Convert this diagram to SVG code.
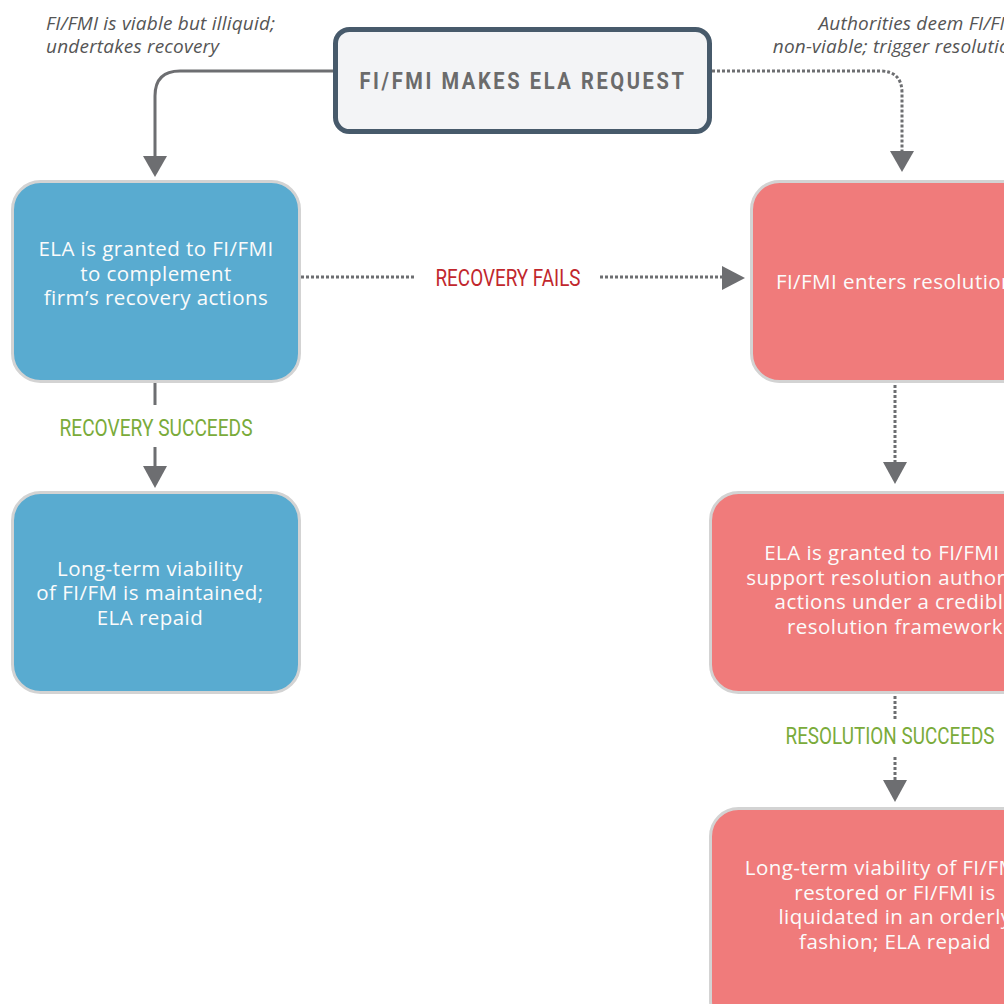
<svg xmlns="http://www.w3.org/2000/svg" width="1004" height="1004" viewBox="0 0 1004 1004">
<style>
.node{stroke:#d3d3d3;stroke-width:3}
.blue{fill:#59abd0}
.red{fill:#f07b7b}
.nt{font-family:"Open Sans","DejaVu Sans",sans-serif;font-size:20.5px;letter-spacing:0.45px;fill:#fbfbfb;text-anchor:middle}
.ann{font-family:"Open Sans","DejaVu Sans",sans-serif;font-size:19px;letter-spacing:0.2px;font-style:italic;fill:#555}
.lbl{font-family:Roboto,"Liberation Sans",sans-serif;font-size:23px;text-anchor:middle}
.solid{fill:none;stroke:#6d6e71;stroke-width:3}
.dot{fill:none;stroke:#6d6e71;stroke-width:3;stroke-dasharray:3 2}
.head{fill:#6d6e71}
</style>
<rect width="1004" height="1004" fill="#ffffff"/>
<g id="connectors">
<path class="solid" d="M335 71 H180 Q155 71 155 96 V158"/>
<polygon class="head" points="143,156 167,156 155,177"/>
<path class="dot" d="M712 71 H880 Q902 71 902 93 V152"/>
<polygon class="head" points="890,151 914,151 902,172"/>
<path class="dot" d="M301 277 H415 M600 277 H723"/>
<polygon class="head" points="722,266 722,290 745,278"/>
<path class="dot" d="M895 385 V463"/>
<polygon class="head" points="883,462 907,462 895,484"/>
<path class="solid" d="M155 383 V405 M155 447 V468"/>
<polygon class="head" points="143,466 167,466 155,488"/>
<path class="dot" d="M895 696 V720 M895 757 V781"/>
<polygon class="head" points="883,780 907,780 895,802"/>
<text class="lbl" x="508" y="286" fill="#c1272d" textLength="145" lengthAdjust="spacingAndGlyphs">RECOVERY FAILS</text>
<text class="lbl" x="156" y="436" fill="#7aab3a" textLength="193" lengthAdjust="spacingAndGlyphs">RECOVERY SUCCEEDS</text>
<text class="lbl" x="890" y="744" fill="#7aab3a" textLength="209" lengthAdjust="spacingAndGlyphs">RESOLUTION SUCCEEDS</text>
<text class="ann" x="46" y="30">FI/FMI is viable but illiquid;</text>
<text class="ann" x="46" y="53">undertakes recovery</text>
<text class="ann" x="1021" y="30" text-anchor="end">Authorities deem FI/FMI</text>
<text class="ann" x="1021" y="53" text-anchor="end">non-viable; trigger resolution</text>
</g>
<g id="request">
<rect x="335.5" y="29.5" width="374" height="102" rx="14" fill="#f3f4f6" stroke="#475a6b" stroke-width="5"/>
<text x="523" y="89" font-family="Roboto,'Liberation Sans',sans-serif" font-size="23" font-weight="bold" letter-spacing="3" fill="#6b6b6b" text-anchor="middle" textLength="327" lengthAdjust="spacingAndGlyphs">FI/FMI MAKES ELA REQUEST</text>
</g>
<g id="ela-recovery">
<rect class="node blue" x="12.5" y="181.5" width="287" height="200" rx="28"/>
<text class="nt" x="156" y="256">ELA is granted to FI/FMI</text>
<text class="nt" x="156" y="281">to complement</text>
<text class="nt" x="156" y="305">firm’s recovery actions</text>
</g>
<g id="viability-maintained">
<rect class="node blue" x="12.5" y="492.5" width="287" height="200" rx="28"/>
<text class="nt" x="150" y="576">Long-term viability</text>
<text class="nt" x="150" y="600">of FI/FM is maintained;</text>
<text class="nt" x="150" y="625">ELA repaid</text>
</g>
<g id="enters-resolution">
<rect class="node red" x="751.5" y="181.5" width="287" height="200" rx="28"/>
<text class="nt" x="895" y="289">FI/FMI enters resolution</text>
</g>
<g id="ela-resolution">
<rect class="node red" x="710.5" y="492.5" width="370" height="200" rx="28"/>
<text class="nt" x="895" y="560">ELA is granted to FI/FMI to</text>
<text class="nt" x="895" y="585">support resolution authority’s</text>
<text class="nt" x="895" y="609">actions under a credible</text>
<text class="nt" x="895" y="634">resolution framework</text>
</g>
<g id="viability-restored">
<rect class="node red" x="710.5" y="808.5" width="370" height="220" rx="28"/>
<text class="nt" x="895" y="875">Long-term viability of FI/FMI is</text>
<text class="nt" x="895" y="900">restored or FI/FMI is</text>
<text class="nt" x="895" y="924">liquidated in an orderly</text>
<text class="nt" x="895" y="949">fashion; ELA repaid</text>
</g>
</svg>
